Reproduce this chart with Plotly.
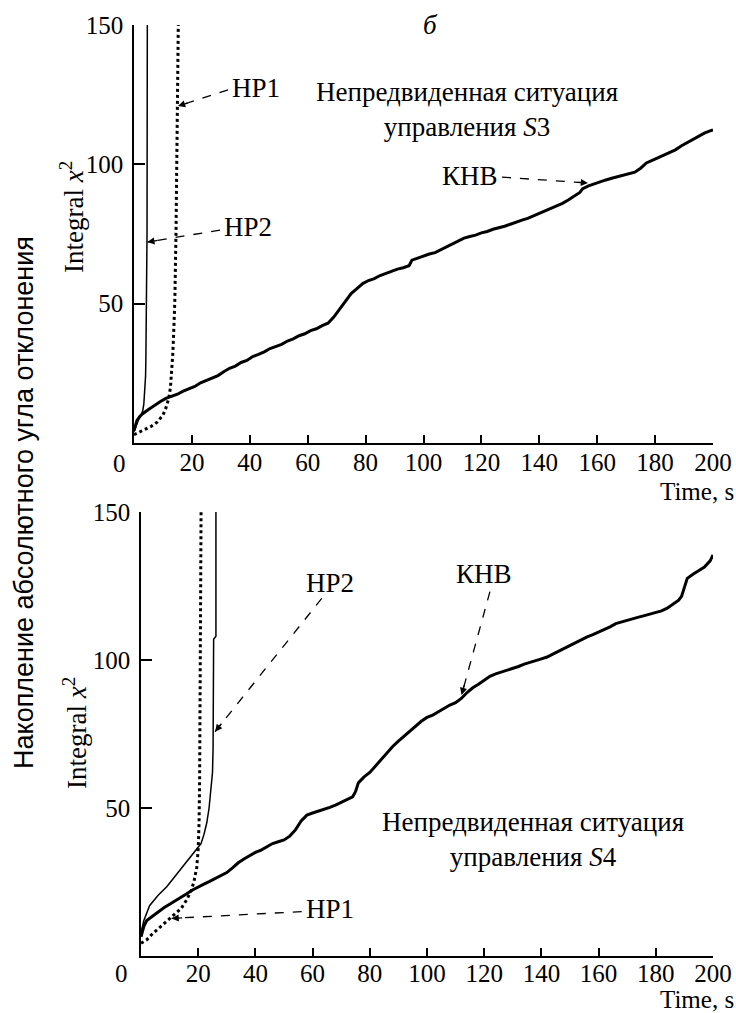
import plotly.graph_objects as go

# ---------------- data ----------------
# Top panel (S3)
s3_knv_x = [0, 1, 2, 3, 5, 7, 9, 11, 13, 15, 17, 19, 21, 23, 25, 27, 29, 31, 33, 35, 37, 39, 41, 43, 45, 47, 49,
            51, 53, 55, 57, 59, 61, 63, 65, 67, 69, 71, 73, 75, 77, 79, 81, 83, 85, 87, 89, 91, 93, 95, 96, 98,
            100, 102, 104, 106, 108, 110, 112, 114, 116, 118, 120, 122, 124, 126, 128, 130, 132, 134, 136, 138,
            140, 142, 144, 146, 148, 150, 152, 154, 155, 157, 159, 161, 163, 165, 167, 169, 171, 173, 175, 177,
            179, 181, 183, 185, 187, 189, 191, 193, 195, 197, 199, 200]
s3_knv_y = [4.5, 8, 9.5, 10.5, 12, 13.5, 14.8, 16, 16.8, 17.5, 18.6, 19.4, 20.3, 21.6, 22.5, 23.4, 24.2, 25.6,
            26.8, 27.6, 28.9, 29.6, 31.0, 31.8, 32.7, 33.9, 34.6, 35.4, 36.6, 37.4, 38.5, 39.2, 40.3, 41.0, 42.1,
            43.0, 45.2, 48.0, 51.2, 53.6, 55.4, 57.2, 58.3, 59.0, 60.1, 60.9, 61.8, 62.4, 62.9, 63.6, 65.6, 66.4,
            67.1, 67.8, 68.3, 69.4, 70.3, 71.4, 72.6, 73.5, 74.1, 74.6, 75.4, 75.9, 76.7, 77.2, 77.8, 78.5, 79.3,
            80.0, 80.6, 81.6, 82.4, 83.3, 84.2, 85.0, 86.0, 87.2, 88.5, 89.9, 91.3, 92.3, 93.0, 93.8, 94.4, 95.0,
            95.5, 96.0, 96.5, 97.2, 98.6, 100.5, 101.4, 102.3, 103.2, 104.1, 105.2, 106.6, 107.8, 108.8, 110.2,
            111.2, 112.0, 112.4]
s3_hp2_x = [0, 0.8, 1.6, 2.4, 3.0, 3.4, 3.7, 3.9, 4.0, 4.1, 4.2, 4.3, 4.4, 4.5, 4.6]
s3_hp2_y = [4, 6.5, 8.5, 10, 11.5, 14, 18, 22, 24, 30, 45, 56, 60, 75, 150]
s3_hp1_x = [0, 2, 4, 6, 8, 10, 11, 12, 12.6, 13.0, 13.4, 13.8, 14.1, 14.5, 14.8, 15.0, 15.3]
s3_hp1_y = [3, 4, 5, 6, 7.5, 10, 12.5, 16, 20, 25, 32, 42, 51, 75, 100, 125, 150]

# Bottom panel (S4)
s4_knv_x = [0, 1, 2, 4, 6, 8, 10, 12, 14, 16, 18, 20, 22, 24, 26, 28, 30, 32, 34, 36, 38, 40, 42, 44, 46, 48, 50,
            52, 54, 56, 58, 60, 62, 64, 66, 68, 70, 72, 74, 75, 76, 78, 80, 82, 84, 86, 88, 90, 92, 94, 96, 98,
            100, 102, 104, 106, 108, 110, 112, 114, 116, 118, 120, 122, 124, 126, 128, 130, 132, 134, 136, 138,
            140, 142, 144, 146, 148, 150, 152, 154, 156, 158, 160, 162, 164, 166, 168, 170, 172, 174, 176, 178,
            180, 182, 184, 186, 188, 189, 190, 191, 193, 195, 197, 199, 200]
s4_knv_y = [6.5, 10, 12, 13.5, 15, 16.3, 17.5, 18.6, 19.8, 21.0, 22.3, 23.4, 24.3, 25.2, 26.2, 27.0, 28.2, 29.8,
            31.5, 32.8, 34.0, 35.0, 35.8, 36.9, 38.0, 38.6, 39.2, 40.5, 42.6, 45.6, 47.6, 48.3, 48.9, 49.5, 50.2,
            51.0, 52.0, 53.0, 53.8, 55.5, 58.5, 60.5, 62.0, 64.2, 66.5, 68.7, 70.8, 72.6, 74.3, 76.0, 77.8, 79.3,
            80.6, 81.4, 82.5, 83.8, 84.8, 85.6, 87.0, 89.0, 90.6, 91.8, 93.2, 94.5, 95.3, 95.9, 96.6, 97.2, 97.8,
            98.6, 99.3, 99.8, 100.4, 101.0, 102.0, 103.0, 104.0, 104.9, 105.8, 106.8, 107.8, 108.6, 109.4, 110.3,
            111.2, 112.3, 112.9, 113.4, 114.0, 114.5, 115.0, 115.5, 115.9, 116.6, 117.5, 118.8, 120.2, 121.5,
            125.0, 127.6, 129.0, 130.2, 131.4, 133.5, 135.5]
s4_hp2_x = [0, 1, 3, 6, 9, 12, 14.8, 17, 19.5, 21, 22, 23, 23.8, 24.5, 25, 25.2, 25.3, 25.4, 26.2, 26.2]
s4_hp2_y = [8, 12, 17, 20.5, 23.4, 27, 30.2, 33, 35.8, 38, 41, 45, 50, 56, 62, 70, 90, 107, 108, 150]
s4_hp1_x = [0, 2, 4, 6, 8, 10, 12, 14, 16, 17.5, 18.5, 19.5, 20.0, 20.3, 20.5, 20.6, 20.8, 21.0]
s4_hp1_y = [4.3, 5.5, 7.5, 9.2, 10.8, 12.3, 14, 16, 19, 22, 25, 30, 36, 45, 60, 90, 120, 150]

x_ticks = [20, 40, 60, 80, 100, 120, 140, 160, 180, 200]
y_ticks = [50, 100, 150]

# ---------------- layout constants ----------------
W, H = 736, 1013
SERIF = "Liberation Serif"
FS_TICK = 25
FS = 27

top_px = dict(x0=134, x1=713, y0=443, y1=25)
bot_px = dict(x0=141, x1=713, y0=956, y1=512)


def dom(p):
    return [p["x0"] / W, p["x1"] / W], [1 - p["y0"] / H, 1 - p["y1"] / H]


fig = go.Figure()


def add_series(x, y, xa, ya, kind):
    if kind == "knv":
        line = dict(color="black", width=3)
    elif kind == "hp2":
        line = dict(color="black", width=1.5)
    else:
        line = dict(color="black", width=3, dash="dot")
    fig.add_trace(go.Scatter(x=x, y=y, mode="lines", line=line, xaxis=xa, yaxis=ya,
                             showlegend=False, hoverinfo="skip"))


add_series(s3_knv_x, s3_knv_y, "x", "y", "knv")
add_series(s3_hp2_x, s3_hp2_y, "x", "y", "hp2")
add_series(s3_hp1_x, s3_hp1_y, "x", "y", "hp1")
add_series(s4_knv_x, s4_knv_y, "x2", "y2", "knv")
add_series(s4_hp2_x, s4_hp2_y, "x2", "y2", "hp2")
add_series(s4_hp1_x, s4_hp1_y, "x2", "y2", "hp1")

axis_common = dict(range=[0, 200], showline=True, linecolor="black", linewidth=1.5, ticks="inside",
                   ticklen=8, tickwidth=1.5, tickcolor="black", showgrid=False, zeroline=False,
                   tickvals=x_ticks, tickfont=dict(family=SERIF, size=FS_TICK, color="black"),
                   automargin=False)
yaxis_common = dict(range=[0, 150], showline=True, linecolor="black", linewidth=1.5, ticks="inside",
                    ticklen=11, tickwidth=1.5, tickcolor="black", showgrid=False, zeroline=False,
                    tickvals=y_ticks, tickfont=dict(family=SERIF, size=FS_TICK, color="black"),
                    ticklabelstandoff=4, automargin=False)

xd1, yd1 = dom(top_px)
xd2, yd2 = dom(bot_px)

fig.update_layout(
    width=W, height=H, margin=dict(l=0, r=0, t=0, b=0, autoexpand=False),
    paper_bgcolor="white", plot_bgcolor="white", showlegend=False,
    xaxis=dict(domain=xd1, anchor="y", ticklabelstandoff=-4, **axis_common),
    yaxis=dict(domain=yd1, anchor="x", **yaxis_common),
    xaxis2=dict(domain=xd2, anchor="y2", ticklabelstandoff=-6, **axis_common),
    yaxis2=dict(domain=yd2, anchor="x2", **yaxis_common),
)

font = dict(family=SERIF, size=FS, color="black")
annotations = []
shapes = []


def scale(p):
    return (p["x1"] - p["x0"]) / 200.0, (p["y0"] - p["y1"]) / 150.0


def arrow(xa, ya, p, tail, head):
    sx, sy = scale(p)
    shapes.append(dict(type="line", xref=xa, yref=ya, x0=tail[0], y0=tail[1], x1=head[0], y1=head[1],
                       line=dict(color="black", width=1.3, dash="dash")))
    dx = (tail[0] - head[0]) * sx
    dy = -(tail[1] - head[1]) * sy
    n = (dx * dx + dy * dy) ** 0.5
    annotations.append(dict(x=head[0], y=head[1], xref=xa, yref=ya, text="", showarrow=True,
                            ax=dx / n * 12, ay=dy / n * 12, arrowhead=2, arrowsize=1.1,
                            arrowwidth=1.3, arrowcolor="black"))


def label(xa, ya, x, y, text, xanchor="left"):
    annotations.append(dict(x=x, y=y, xref=xa, yref=ya, text=text, showarrow=False, font=font,
                            xanchor=xanchor, yanchor="middle"))


# top panel annotations
arrow("x", "y", top_px, (32.5, 126.7), (15.2, 120.9))
label("x", "y", 33.0, 127.5, "НР1")
arrow("x", "y", top_px, (29.7, 76.4), (4.6, 72.1))
label("x", "y", 30.5, 77.5, "НР2")
arrow("x", "y", top_px, (127.1, 95.4), (156.8, 93.3))
label("x", "y", 126.5, 95.8, "КНВ", xanchor="right")
annotations.append(dict(x=115, y=119.5, xref="x", yref="y", text="Непредвиденная ситуация<br>управления <i>S</i>3",
                        showarrow=False, font=font, xanchor="center", yanchor="middle", align="center"))

# bottom panel annotations
arrow("x2", "y2", bot_px, (63.2, 120.8), (25.9, 75.8))
label("x2", "y2", 57.0, 126.0, "НР2")
arrow("x2", "y2", bot_px, (56.2, 15.0), (10.7, 12.7))
label("x2", "y2", 57.0, 16.0, "НР1")
arrow("x2", "y2", bot_px, (122.0, 123.1), (112.1, 88.2))
label("x2", "y2", 120.0, 129.0, "КНВ", xanchor="center")
annotations.append(dict(x=137, y=39.2, xref="x2", yref="y2", text="Непредвиденная ситуация<br>управления <i>S</i>4",
                        showarrow=False, font=font, xanchor="center", yanchor="middle", align="center"))

# axis corner zeros, axis titles
for (px, py) in [(119, 463), (122, 973)]:
    annotations.append(dict(x=px / W, y=1 - py / H, xref="paper", yref="paper", text="0", showarrow=False,
                            font=dict(family=SERIF, size=FS_TICK, color="black"),
                            xanchor="center", yanchor="middle"))
for py in [491, 999]:
    annotations.append(dict(x=736 / W, y=1 - py / H, xref="paper", yref="paper", text="Time, s",
                            showarrow=False, font=dict(family=SERIF, size=25, color="black"),
                            xanchor="right", yanchor="middle"))
for (px, py) in [(72, 217), (75, 733)]:
    annotations.append(dict(x=px / W, y=1 - py / H, xref="paper", yref="paper",
                            text="Integral <i>x</i><sup>2</sup>", showarrow=False, font=font,
                            textangle=-90, xanchor="center", yanchor="middle"))
annotations.append(dict(x=430 / W, y=1 - 25 / H, xref="paper", yref="paper", text="<i>б</i>", showarrow=False,
                        font=font, xanchor="center", yanchor="middle"))
annotations.append(dict(x=24 / W, y=1 - 503 / H, xref="paper", yref="paper",
                        text="Накопление абсолютного угла отклонения", showarrow=False,
                        font=dict(family="Liberation Sans", size=27, color="black"),
                        textangle=-90, xanchor="center", yanchor="middle"))

fig.update_layout(annotations=annotations, shapes=shapes)
fig.write_html("out.html")
